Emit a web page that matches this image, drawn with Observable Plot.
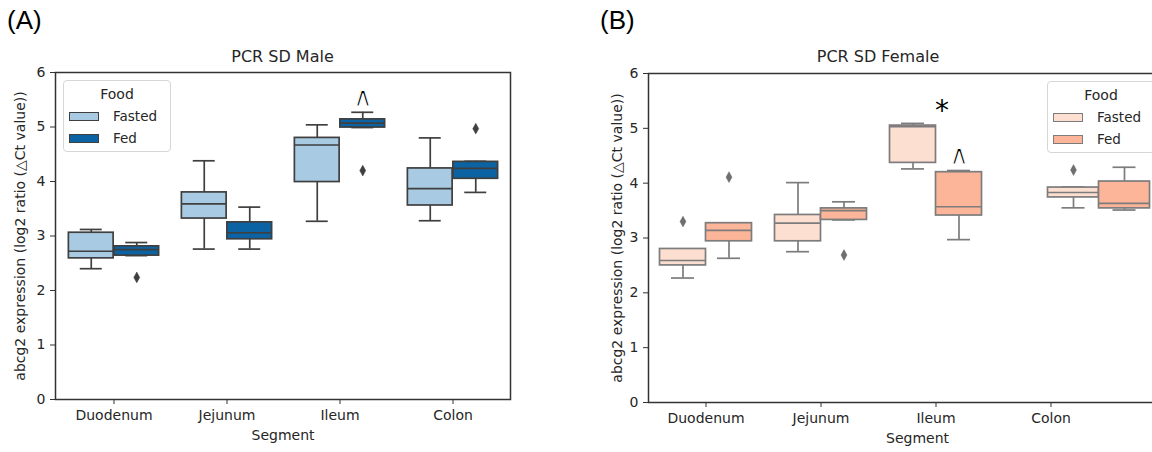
<!DOCTYPE html>
<html><head><meta charset="utf-8">
<script src="https://cdn.jsdelivr.net/npm/d3@7"></script>
<script src="https://cdn.jsdelivr.net/npm/@observablehq/plot@0.6"></script>
<style>
body{margin:0;width:1152px;height:452px;overflow:hidden;background:#fff;position:relative;font-family:"DejaVu Sans",sans-serif}
.panel{position:absolute;top:0;height:452px;width:576px;overflow:hidden}
.panel svg{max-width:none !important}
.tag{position:absolute;top:5px;font-family:"Liberation Sans",Arial,sans-serif;font-size:26px;color:#000}
.legend{position:absolute;box-sizing:border-box;border:1px solid #d6d6d6;border-radius:4px;background:rgba(255,255,255,0.85);font-size:13.5px;color:#262626}
.legend .ttl{position:absolute;left:0;right:0;top:5px;text-align:center;font-size:14px}
.legend .row{position:absolute;left:5px;height:14px;display:flex;align-items:center}
.legend .sw{width:30px;height:9px;box-sizing:border-box;margin-right:14px}
.title{position:absolute;top:47px;font-size:16px;color:#262626;transform:translateX(-50%);white-space:nowrap}
</style></head>
<body>
<div class="tag" style="left:7px">(A)</div>
<div class="tag" style="left:600px">(B)</div>
<div id="pa" class="panel" style="left:0"></div>
<div id="pb" class="panel" style="left:576px"></div>
<script>
const segments = ["Duodenum", "Jejunum", "Ileum", "Colon"];
const foods = ["Fasted", "Fed"];
const yTicks = [0, 1, 2, 3, 4, 5, 6];
// box statistics per segment: [low whisker, Q1, median, Q3, high whisker]
const maleFasted = [[2.40, 2.59, 2.72, 3.06, 3.12], [2.76, 3.32, 3.59, 3.80, 4.38], [3.27, 3.99, 4.67, 4.80, 5.04], [3.28, 3.56, 3.87, 4.24, 4.80]];
const maleFed = [[2.64, 2.64, 2.75, 2.81, 2.88], [2.76, 2.94, 3.06, 3.25, 3.53], [4.99, 4.99, 5.07, 5.14, 5.27], [3.80, 4.05, 4.24, 4.36, 4.37]];
const femaleFasted = [[2.27, 2.50, 2.59, 2.80, 2.80], [2.75, 2.94, 3.27, 3.42, 4.01], [4.26, 4.37, 5.03, 5.05, 5.09], [3.55, 3.74, 3.83, 3.92, 3.93]];
const femaleFed = [[2.63, 2.94, 3.14, 3.27, 3.27], [3.33, 3.33, 3.50, 3.54, 3.66], [2.97, 3.41, 3.57, 4.20, 4.23], [3.51, 3.54, 3.63, 4.03, 4.29]];
const maleOutlierSeg = ["Duodenum", "Ileum", "Colon"];
const maleOutlierFood = ["Fed", "Fed", "Fed"];
const maleOutlierVal = [2.24, 4.20, 4.97];
const femaleOutlierSeg = ["Duodenum", "Duodenum", "Jejunum", "Colon"];
const femaleOutlierFood = ["Fasted", "Fed", "Fed", "Fasted"];
const femaleOutlierVal = [3.30, 4.11, 2.69, 4.24];
const maleNoteSeg = ["Ileum"], maleNoteFood = ["Fed"], maleNoteText = ["∧"], maleNoteVal = [5.55];
const femaleNoteSeg = ["Ileum", "Ileum"], femaleNoteFood = ["Both", "Fed"], femaleNoteText = ["*", "∧"], femaleNoteVal = [5.42, 4.51];
const yLabel = "abcg2 expression (log2 ratio (\u25B3Ct value))";

const thinDiamond = {draw(ctx, size) {const r = Math.sqrt(size / Math.PI); const h = r * 1.8, w = h * 0.55; ctx.moveTo(0, -h); ctx.lineTo(w, 0); ctx.lineTo(0, h); ctx.lineTo(-w, 0); ctx.closePath();}};

function rows(stats) {return segments.map((s, i) => ({segment: s, lo: stats[i][0], q1: stats[i][1], med: stats[i][2], q3: stats[i][3], hi: stats[i][4]}));}
function zip(seg, food, val, text) {return seg.map((s, i) => ({segment: s, food: food[i], value: val[i], text: text ? text[i] : null}));}

function panel(cfg) {
  const step = (cfg.range[1] - cfg.range[0]) / segments.length;
  const half = step / 2, bw = 0.4 * step, cap = bw / 2;
  const marks = [];
  const sides = [[cfg.fasted, -1, cfg.colors[0]], [cfg.fed, 1, cfg.colors[1]]];
  const groups = [{filter: d => !cfg.shiftSeg || d.segment !== cfg.shiftSeg, shift: 0}];
  if (cfg.shiftSeg) groups.push({filter: d => d.segment === cfg.shiftSeg, shift: cfg.shift, widen: cfg.widen});
  const notes = [];
  for (const n of cfg.notes) {
    const isStar = n.text === "*";
    const dx = n.food === "Fed" ? bw / 2 : n.food === "Fasted" ? -bw / 2 : 6;
    notes.push(Plot.text([n], {x: "segment", y: "value", text: "text", dx, fontSize: isStar ? 28 : 27, lineAnchor: "middle", fill: "#000", stroke: "white", strokeWidth: isStar ? 0 : 1.1, paintOrder: "fill", dy: isStar ? 6 : 0}));
  }
  marks.push(...notes);
  for (const g of groups) {
    for (const [stats, s, fill] of sides) {
      const data = rows(stats).filter(g.filter);
      const w = bw + (g.widen || 0);
      const c = s * w / 2;
      const sh = g.shift;
      const boxL = half + c - w / 2 + sh, boxR = step - (half + c + w / 2 + sh);
      const capL = half + c - cap / 2 + sh, capR = step - (half + c + cap / 2 + sh);
      const st = {stroke: cfg.stroke, strokeWidth: 1.7};
      marks.push(Plot.ruleX(data, {x: "segment", y1: "lo", y2: "q1", dx: c + sh, ...st}));
      marks.push(Plot.ruleX(data, {x: "segment", y1: "q3", y2: "hi", dx: c + sh, ...st}));
      marks.push(Plot.tickY(data, {x: "segment", y: "lo", insetLeft: capL, insetRight: capR, ...st}));
      marks.push(Plot.tickY(data, {x: "segment", y: "hi", insetLeft: capL, insetRight: capR, ...st}));
      marks.push(Plot.barY(data, {x: "segment", y1: "q1", y2: "q3", fill, insetLeft: boxL, insetRight: boxR, ...st}));
      marks.push(Plot.tickY(data, {x: "segment", y: "med", insetLeft: boxL, insetRight: boxR, ...st}));
      const outs = cfg.outliers.filter(d => d.food === foods[(s + 1) / 2]).filter(g.filter);
      marks.push(Plot.dot(outs, {x: "segment", y: "value", dx: c + sh, r: 3, symbol: thinDiamond, fill: cfg.dotFill, stroke: cfg.dotFill, strokeWidth: 0.5}));
    }
  }
  const plot = Plot.plot({
    width: cfg.width, height: 452,
    marginLeft: cfg.range[0], marginRight: cfg.marginRight, marginTop: cfg.top, marginBottom: 452 - cfg.bottom,
    style: {fontFamily: "DejaVu Sans", fontSize: "13px", color: "#262626", background: "transparent", overflow: "visible", maxWidth: "none"},
    x: {domain: segments, range: cfg.range, padding: 0},
    y: {domain: [0, 6], range: [cfg.bottom, cfg.top]},
    marks: [
      ...marks,
      Plot.frame({stroke: cfg.frame, strokeWidth: 1.5}),
      Plot.axisY({ticks: yTicks, tickSize: 5, tickPadding: 5, tickFormat: d3.format("d"), stroke: cfg.frame, fontSize: 14, label: yLabel, labelAnchor: "center", labelArrow: "none", labelOffset: cfg.labelOffset}),
      Plot.axisX({tickSize: 5, tickPadding: 6, stroke: cfg.frame, fontSize: 14, label: "Segment", labelAnchor: "center", labelArrow: "none", labelOffset: 40})
    ]
  });
  plot.style.maxWidth = "none";
  return plot;
}

const pa = panel({
  width: 576, range: [55, 510], marginRight: 66, top: 72, bottom: 399,
  fasted: maleFasted, fed: maleFed, colors: ["#a8cae2", "#0b63a3"], stroke: "#3f3f3f", frame: "#333", dotFill: "#3f3f3f",
  outliers: zip(maleOutlierSeg, maleOutlierFood, maleOutlierVal),
  notes: zip(maleNoteSeg, maleNoteFood, maleNoteVal, maleNoteText), labelOffset: 40
});
document.getElementById("pa").append(pa);
const pb = panel({
  width: 610, range: [72, 532], marginRight: 0, top: 73, bottom: 402,
  fasted: femaleFasted, fed: femaleFed, colors: ["#fddfd2", "#fcb598"], stroke: "#7c7c7c", frame: "#333", dotFill: "#6e6e6e",
  outliers: zip(femaleOutlierSeg, femaleOutlierFood, femaleOutlierVal),
  notes: zip(femaleNoteSeg, femaleNoteFood, femaleNoteVal, femaleNoteText), labelOffset: 36,
  shiftSeg: "Colon", shift: 48, widen: 5
});
document.getElementById("pb").append(pb);

function addTitle(text, plot, left) {
  const r = plot.scale("x").range;
  const d = document.createElement("div");
  d.className = "title"; d.textContent = text;
  d.style.left = (left + (r[0] + r[1]) / 2) + "px";
  document.body.append(d);
}
addTitle("PCR SD Male", pa, 0);
addTitle("PCR SD Female", pb, 576);

function addLegend(left, top, colors, stroke) {
  const L = document.createElement("div");
  L.className = "legend";
  Object.assign(L.style, {left: left + "px", top: top + "px", width: "108px", height: "72px"});
  const t = document.createElement("div"); t.className = "ttl"; t.textContent = "Food"; L.append(t);
  foods.forEach((f, i) => {
    const r = document.createElement("div"); r.className = "row"; r.style.top = (28 + i * 22) + "px";
    const sw = document.createElement("span"); sw.className = "sw";
    sw.style.background = colors[i]; sw.style.border = "1.2px solid " + stroke;
    const tx = document.createElement("span"); tx.textContent = f;
    r.append(sw, tx); L.append(r);
  });
  document.body.append(L);
}
addLegend(63, 80, ["#a8cae2", "#0b63a3"], "#3f3f3f");
addLegend(1047, 81, ["#fddfd2", "#fcb598"], "#7c7c7c");
</script>
</body></html>
